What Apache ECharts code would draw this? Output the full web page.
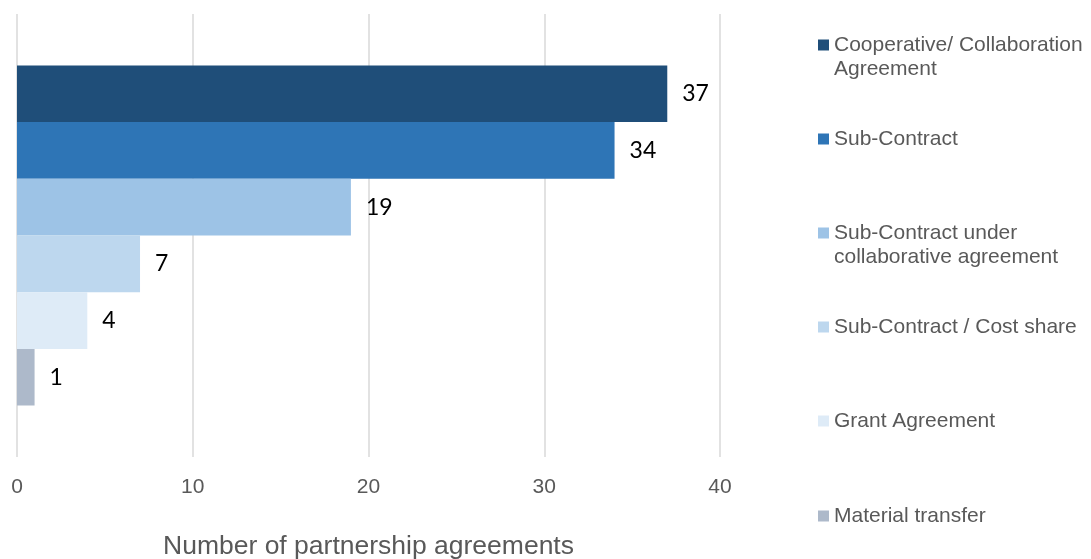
<!DOCTYPE html>
<html>
<head>
<meta charset="utf-8">
<script src="https://cdn.jsdelivr.net/npm/echarts@6/dist/echarts.min.js"></script>
<style>
  html, body { margin: 0; padding: 0; background: #fff; }
  #chart { width: 1091px; height: 559px; }
</style>
</head>
<body>
<div id="chart"></div>
<script>
// Agreement types and how many partnership agreements of each kind
const agreementTypes = [
  'Cooperative/ Collaboration Agreement',
  'Sub-Contract',
  'Sub-Contract under collaborative agreement',
  'Sub-Contract / Cost share',
  'Grant Agreement',
  'Material transfer'
];
const agreementCounts = [37, 34, 19, 7, 4, 1];
// Legend text, wrapped as it is laid out beside the chart
const legendText = [
  ['Cooperative/ Collaboration', 'Agreement'],
  ['Sub-Contract'],
  ['Sub-Contract under', 'collaborative agreement'],
  ['Sub-Contract / Cost share'],
  ['Grant Agreement'],
  ['Material transfer']
];
const barColors = ['#1F4E79', '#2E75B6', '#9DC3E6', '#BDD7EE', '#DEEBF7', '#ADB9CA'];
const xTicks = { min: 0, max: 40, interval: 10 };
const axisTitle = 'Number of partnership agreements';

const chart = echarts.init(document.getElementById('chart'));

// vertical centre of each legend marker
const legendFirst = 43.5;
const legendStep = 94.2;
const lineH = 24;

const legends = agreementTypes.map((name, i) => {
  const lines = legendText[i];
  // wrapped entries get an empty leading line so the marker sits beside the first line
  const text = lines.length > 1 ? '\n' + lines.join('\n') : lines[0];
  const nLines = lines.length > 1 ? lines.length + 1 : 1;
  const boxH = Math.max(11, nLines * lineH);
  const centre = legendFirst + i * legendStep;
  return {
    orient: 'vertical',
    left: 818,
    top: Math.round(centre - boxH / 2 + 1),
    padding: 0,
    itemWidth: 11,
    itemHeight: 11,
    icon: 'rect',
    data: [name],
    formatter: () => text,
    textStyle: {
      fontFamily: 'Liberation Sans, Arial, sans-serif',
      fontSize: 21,
      color: '#595959',
      lineHeight: lineH
    }
  };
});

const series = agreementTypes.map((name, i) => ({
  name: name,
  type: 'bar',
  data: [agreementCounts[i]],
  barGap: '0%',
  barWidth: 56.7,
  itemStyle: { color: barColors[i] },
  label: {
    show: true,
    position: 'right',
    distance: 15,
    fontFamily: 'Lato, sans-serif',
    fontSize: 23,
    color: '#000'
  },
  emphasis: { disabled: true }
}));

chart.setOption({
  animation: false,
  legend: legends,
  grid: {
    left: 17, right: 371, top: 14, bottom: 102,
    containLabel: false,
    outerBoundsMode: 'none'
  },
  xAxis: {
    type: 'value',
    min: xTicks.min,
    max: xTicks.max,
    interval: xTicks.interval,
    name: axisTitle,
    nameLocation: 'middle',
    nameGap: 76,
    nameTextStyle: {
      fontFamily: 'Liberation Sans, Arial, sans-serif',
      fontSize: 26.5,
      color: '#595959'
    },
    axisLine: { show: false },
    axisTick: { show: false },
    axisLabel: {
      margin: 20,
      fontFamily: 'Liberation Sans, Arial, sans-serif',
      fontSize: 21,
      color: '#595959'
    },
    splitLine: { show: true, lineStyle: { color: '#D9D9D9', width: 1.5 } }
  },
  yAxis: {
    type: 'category',
    data: [''],
    inverse: true,
    axisLine: { show: false },
    axisTick: { show: false },
    axisLabel: { show: false }
  },
  series: series
});
</script>
</body>
</html>
